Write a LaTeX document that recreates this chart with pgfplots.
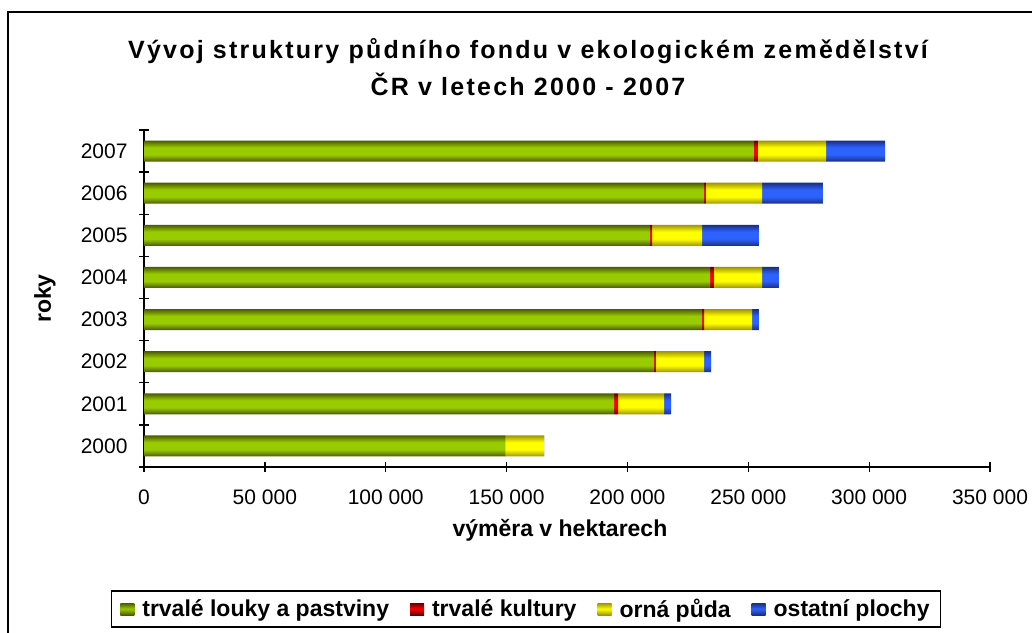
\documentclass[border=0pt]{standalone}
\usepackage{fontspec}
\setmainfont{Liberation Sans}
\newfontfamily\titlefont[LetterSpace=9]{Liberation Sans}
\usepackage{pgfplots}
\pgfplotsset{compat=1.18}
\definecolor{gmid}{HTML}{99CC00}
\definecolor{gedge}{HTML}{4A5A00}
\definecolor{rmid}{HTML}{FF0000}
\definecolor{redge}{HTML}{600000}
\definecolor{ymid}{HTML}{FFFF00}
\definecolor{yedge}{HTML}{9C9400}
\definecolor{bmid}{HTML}{2E62FF}
\definecolor{bedge}{HTML}{1A2E80}
% one vertical gradient repeated for each of the 8 bar rows (rows fill 25bp..75bp of the shading)
\newcommand\mkbarshade[3]{%
\pgfdeclareverticalshading{#1}{100bp}{color(0bp)=(#2); color(25bp)=(#2);
 color(26.1bp)=(#3); color(27.23bp)=(#3); color(28.33bp)=(#2);
 color(31.67bp)=(#2); color(32.77bp)=(#3); color(33.9bp)=(#3); color(35bp)=(#2);
 color(38.33bp)=(#2); color(39.43bp)=(#3); color(40.57bp)=(#3); color(41.67bp)=(#2);
 color(45bp)=(#2); color(46.1bp)=(#3); color(47.23bp)=(#3); color(48.33bp)=(#2);
 color(51.67bp)=(#2); color(52.77bp)=(#3); color(53.9bp)=(#3); color(55bp)=(#2);
 color(58.33bp)=(#2); color(59.43bp)=(#3); color(60.57bp)=(#3); color(61.67bp)=(#2);
 color(65bp)=(#2); color(66.1bp)=(#3); color(67.23bp)=(#3); color(68.33bp)=(#2);
 color(71.67bp)=(#2); color(72.77bp)=(#3); color(73.9bp)=(#3); color(75bp)=(#2);
 color(100bp)=(#2)}}
\mkbarshade{gbars}{gedge}{gmid}
\mkbarshade{rbars}{redge}{rmid}
\mkbarshade{ybars}{yedge}{ymid}
\mkbarshade{bbars}{bedge}{bmid}
\begin{document}
\begin{tikzpicture}[x=1pt,y=1pt]
\useasboundingbox (0,0) rectangle (1032,632);
\draw[line width=2pt] (8,-5) -- (8,620) -- (1040,620);
\node[font=\titlefont\bfseries\fontsize{25}{37}\selectfont, align=center] at (528,565) {Vývoj struktury půdního fondu v ekologickém zemědělství\\ČR v letech 2000 - 2007};
\begin{axis}[
  at={(144pt,165pt)}, anchor=south west,
  width=846pt, height=337pt, scale only axis,
  xbar stacked, bar width=21pt,
  xmin=0, xmax=350000, ymin=-0.5, ymax=7.5,
  axis lines*=left,
  axis line style={line width=1.3pt},
  every tick/.style={line width=1.3pt, black},
  tick align=center, major tick length=10pt,
  scaled x ticks=false,
  xtick={0,50000,100000,150000,200000,250000,300000,350000},
  xticklabels={0,50 000,100 000,150 000,200 000,250 000,300 000,350 000},
  ytick={-0.5,0.5,...,7.5}, yticklabels={},
  extra y ticks={0,1,2,3,4,5,6,7},
  extra y tick labels={2000,2001,2002,2003,2004,2005,2006,2007},
  extra y tick style={major tick length=0pt, grid=none},
  ticklabel style={font=\fontsize{21}{24}\selectfont},
  xticklabel style={yshift=-14pt},
  yticklabel style={xshift=-13pt},
  xlabel={výměra v hektarech},
  ylabel={roky},
  label style={font=\bfseries\fontsize{23}{26}\selectfont},
  xlabel style={at={(axis description cs:0.4917,-0.187)}, anchor=center},
  ylabel style={at={(axis description cs:-0.117,0.5)}, anchor=center},
  clip=false,
  legend columns=4,
  legend style={at={(axis description cs:0.4515,-0.4214)}, anchor=center,
    draw=black, line width=1.5pt, font=\bfseries\fontsize{23}{26}\selectfont,
    column sep=6pt, inner xsep=9pt, inner ysep=6pt,
    /tikz/every even column/.append style={column sep=19pt}},
  legend image code/.code={\path[#1, draw=none] (0pt,-6pt) rectangle (14pt,6pt);},
]
\addplot[draw=none, shade, shading=gbars, forget plot] coordinates {
(149400,0) (194500,1) (211000,2) (230900,3) (234200,4) (209400,5) (231700,6) (252400,7)};
\addplot[draw=none, shade, shading=rbars, forget plot] coordinates {
(1,0) (1600,1) (800,2) (800,3) (1600,4) (800,5) (800,6) (1600,7)};
\addplot[draw=none, shade, shading=ybars, forget plot] coordinates {
(16100,0) (19100,1) (19900,2) (19900,3) (19900,4) (20700,5) (23200,6) (28200,7)};
\addplot[draw=none, shade, shading=bbars, forget plot] coordinates {
(1,0) (2900,1) (2900,2) (2800,3) (7000,4) (23500,5) (25200,6) (24400,7)};
\addlegendimage{top color=gedge, bottom color=gedge, middle color=gmid}
\addlegendimage{top color=redge, bottom color=redge, middle color=rmid}
\addlegendimage{top color=yedge, bottom color=yedge, middle color=ymid}
\addlegendimage{top color=bedge, bottom color=bedge, middle color=bmid}
\legend{trvalé louky a pastviny,trvalé kultury,orná půda,ostatní plochy}
\end{axis}
\end{tikzpicture}
\end{document}
